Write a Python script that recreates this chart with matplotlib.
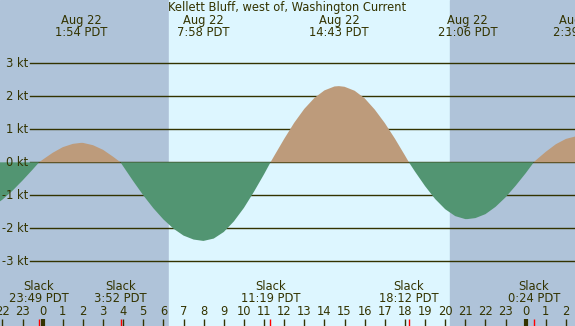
import matplotlib
matplotlib.use('Agg')
import matplotlib.pyplot as plt
import numpy

# current speed (kt), hours from Aug 22 00:00 PDT
hours = [-2.5, -2.0, -1.5, -1.0, -0.5, -0.18, 0.0, 0.5, 1.0, 1.5, 1.9, 2.0, 2.5,
         3.0, 3.5, 3.87, 4.0, 4.5, 5.0, 5.5, 6.0, 6.5, 7.0, 7.5, 7.97, 8.0, 8.5,
         9.0, 9.5, 10.0, 10.5, 11.0, 11.32, 11.5, 12.0, 12.5, 13.0, 13.5, 14.0,
         14.5, 14.72, 15.0, 15.5, 16.0, 16.5, 17.0, 17.5, 18.0, 18.2, 18.5, 19.0,
         19.5, 20.0, 20.5, 21.0, 21.1, 21.5, 22.0, 22.5, 23.0, 23.5, 24.0, 24.4,
         24.5, 25.0, 25.5, 26.0, 26.5, 27.0]
speed = [-1.35, -1.13, -0.86, -0.55, -0.22, 0.0, 0.08, 0.29, 0.46, 0.56, 0.59, 0.59, 0.52,
         0.38, 0.17, 0.0, -0.12, -0.57, -1.00, -1.39, -1.73, -2.01, -2.22, -2.34, -2.38, -2.38, -2.31,
         -2.11, -1.79, -1.38, -0.89, -0.36, 0.0, 0.19, 0.71, 1.20, 1.62, 1.95, 2.18,
         2.30, 2.31, 2.29, 2.17, 1.94, 1.60, 1.19, 0.72, 0.21, 0.0, -0.28, -0.72,
         -1.11, -1.42, -1.63, -1.72, -1.72, -1.69, -1.57, -1.35, -1.06, -0.71, -0.33, 0.0,
         0.06, 0.32, 0.55, 0.71, 0.79, 0.78]

max_times = [1.9, 7.97, 14.72, 21.1, 26.65]
max_dates = ['Aug 22', 'Aug 22', 'Aug 22', 'Aug 22', 'Aug 23']
max_labels = ['1:54 PDT', '7:58 PDT', '14:43 PDT', '21:06 PDT', '2:39 PDT']

slack_times = [-0.18, 3.87, 11.32, 18.2, 24.4]
slack_labels = ['23:49 PDT', '3:52 PDT', '11:19 PDT', '18:12 PDT', '0:24 PDT']

sunrise = 6.28
sunset = 20.24
kt_levels = [-3, -2, -1, 0, 1, 2, 3]
hour_ticks = list(range(-2, 27))

title = 'Kellett Bluff, west of, Washington Current'

night_col = '#afc3d9'
day_col = '#ddf6ff'
flood_col = '#bd9b7b'
ebb_col = '#529572'
ink = '#333300'

plt.rcParams['font.family'] = 'DejaVu Sans'
fs = 8.3

fig = plt.figure(figsize=(5.75, 3.26), dpi=100)
ax = fig.add_axes([0, 0, 1, 1])
x0, x1 = -2.12, 26.45
y0, y1 = -4.96, 4.92
ax.set_xlim(x0, x1)
ax.set_ylim(y0, y1)
ax.axis('off')

# night / day background
ax.axvspan(x0, sunrise, color=night_col, zorder=0)
ax.axvspan(sunrise, sunset, color=day_col, zorder=0)
ax.axvspan(sunset, x1, color=night_col, zorder=0)

# kt grid
grid_start = x0 + 30 / 20.125
for k in kt_levels:
    ax.plot([grid_start, x1], [k, k], color=ink, lw=1, zorder=1)
    ax.text(grid_start - 0.1, k, '%d kt' % k, ha='right', va='center',
            fontsize=fs, color=ink, zorder=3)

# flood / ebb fill
h = numpy.array(hours)
s = numpy.array(speed)
ax.fill_between(h, 0, s, where=s >= 0, interpolate=True, color=flood_col, lw=0, zorder=2)
ax.fill_between(h, 0, s, where=s <= 0, interpolate=True, color=ebb_col, lw=0, zorder=2)

# title and max current labels
ax.text(12.15, 4.70, title, ha='center', va='center', fontsize=fs, color=ink, zorder=3)
for t, d, lab in zip(max_times, max_dates, max_labels):
    ax.text(t, 4.31, d, ha='center', va='center', fontsize=fs, color=ink, zorder=3)
    ax.text(t, 3.95, lab, ha='center', va='center', fontsize=fs, color=ink, zorder=3)

# slack labels
for t, lab in zip(slack_times, slack_labels):
    ax.text(t, -3.77, 'Slack', ha='center', va='center', fontsize=fs, color=ink, zorder=3)
    ax.text(t, -4.13, lab, ha='center', va='center', fontsize=fs, color=ink, zorder=3)

# hour ticks
for hr in hour_ticks:
    ax.text(hr, -4.53, str(hr % 24), ha='center', va='center', fontsize=fs, color=ink, zorder=3)
    lw = 3 if hr % 24 == 0 else 1
    ax.plot([hr, hr], [-4.76, y0], color=ink, lw=lw, solid_capstyle='butt', zorder=3)
for t in slack_times:
    ax.plot([t, t], [-4.76, y0], color='red', lw=1, solid_capstyle='butt', zorder=3)

fig.savefig('out.png', dpi=100)
